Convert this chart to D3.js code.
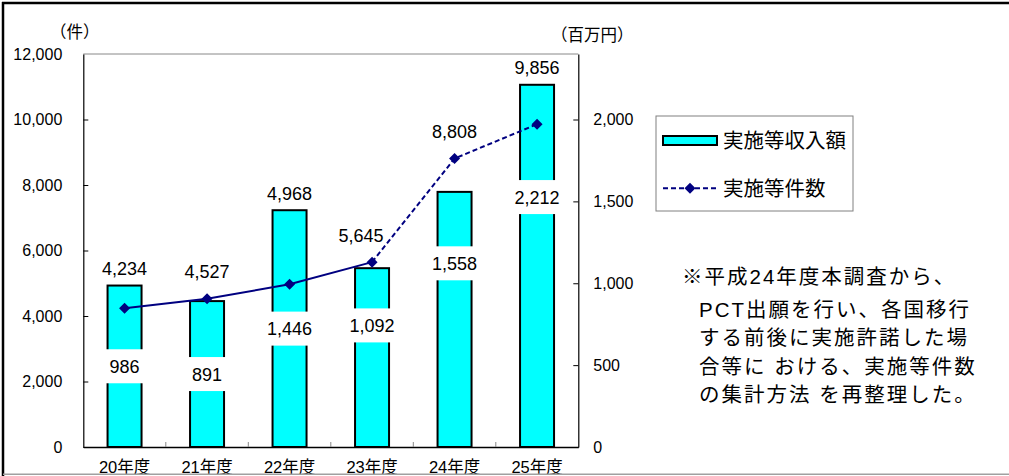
<!DOCTYPE html>
<html><head><meta charset="utf-8">
<script src="https://cdn.jsdelivr.net/npm/d3@7"></script>
<style>
html,body{margin:0;padding:0;background:#fff;}
svg{display:block;font-family:"Liberation Sans","Noto Sans CJK JP",sans-serif;}
</style></head>
<body>
<svg id="c" width="1009" height="476"></svg>
<script>
// ---- data ----
const categories = ["20年度","21年度","22年度","23年度","24年度","25年度"];
const income = [986, 891, 1446, 1092, 1558, 2212];      // 実施等収入額 (百万円)
const counts = [4234, 4527, 4968, 5645, 8808, 9856];    // 実施等件数 (件)
const leftTicks = [0, 2000, 4000, 6000, 8000, 10000, 12000];
const rightTicks = [0, 500, 1000, 1500, 2000];
const seriesNames = ["実施等収入額", "実施等件数"];
const axisTitles = ["（件）", "（百万円）"];
const noteLines = ["※平成24年度本調査から、","PCT出願を行い、各国移行","する前後に実施許諾した場","合等に おける、実施等件数","の集計方法 を再整理した。"];
// layout: where along each bar its label sits (fraction of bar height)
const barLabelFrac = [0.5, 0.5, 0.5, 0.68, 0.72, 0.69];
// layout: horizontal nudge of line labels (px)
const lineLabelDx = [0, 0, 0, -11, 0, 0];

const svg = d3.select("#c");
const L = 83.3, R = 578.3, T = 54, B = 447;
const x = d3.scaleBand().domain(categories).range([L, R]).padding(0);
const yL = d3.scaleLinear().domain([0, 12000]).range([B, T]);
const yR = d3.scaleLinear().domain([0, 2400]).range([B, T]);
const navy = "#000080", cyan = "#00FFFF";
const fmt = d3.format(",");

// outer frame
svg.append("line").attr("x1",2).attr("x2",1009).attr("y1",3).attr("y2",3).attr("stroke","#000").attr("stroke-width",2.5);
svg.append("line").attr("x1",3).attr("x2",3).attr("y1",2).attr("y2",476).attr("stroke","#000").attr("stroke-width",2.5);

// plot top border
svg.append("line").attr("x1",L).attr("x2",R).attr("y1",T).attr("y2",T).attr("stroke","#888").attr("stroke-width",1);

// bars
const bw = 34;
svg.append("g").selectAll("rect").data(income).join("rect")
  .attr("x",(d,i)=>x(categories[i]) + x.bandwidth()/2 - bw/2)
  .attr("y",d=>yR(d)).attr("width",bw).attr("height",d=>B - yR(d))
  .attr("fill",cyan).attr("stroke","#000").attr("stroke-width",2);

// axes
const gl = svg.append("g").attr("transform",`translate(${L},0)`)
  .call(d3.axisLeft(yL).tickValues(leftTicks).tickFormat(fmt).tickSize(-5).tickSizeOuter(0).tickPadding(21));
const gr = svg.append("g").attr("transform",`translate(${R},0)`)
  .call(d3.axisRight(yR).tickValues(rightTicks).tickFormat(fmt).tickSize(-5).tickSizeOuter(0).tickPadding(15));
[gl, gr].forEach(g=>{
  g.selectAll("text").attr("font-size",16).attr("fill","#000");
  g.selectAll(".tick line").attr("stroke","#000");
  g.select(".domain").attr("stroke","#000").attr("stroke-width",1.2);
  g.attr("font-family",null);
});
gl.selectAll(".tick").filter(d=>d===12000).select("line").remove();
const gb = svg.append("g").attr("transform",`translate(0,${B})`)
  .call(d3.axisBottom(x).tickSize(0).tickSizeOuter(0));
gb.attr("font-family",null);
gb.select(".domain").attr("stroke","#000").attr("stroke-width",1.5);
gb.selectAll("text").attr("font-size",16.5).attr("fill","#000").attr("y",20).attr("dy","0.35em");
// category separator ticks (inward)
svg.append("g").selectAll("line").data(categories.slice(1)).join("line")
  .attr("x1",d=>x(d)).attr("x2",d=>x(d)).attr("y1",B).attr("y2",B-5)
  .attr("stroke","#888").attr("stroke-width",1);

// bar labels with white boxes
const bl = svg.append("g");
income.forEach((v,i)=>{
  const cx = x(categories[i]) + x.bandwidth()/2;
  const cy = yR(v * barLabelFrac[i]);
  const t = bl.append("text").attr("x",cx).attr("y",cy).attr("dy","0.36em")
    .attr("text-anchor","middle").attr("font-size",18).attr("fill","#000").text(fmt(v));
  const w = Math.max(t.node().getComputedTextLength() + 10, bw + 6);
  bl.insert("rect","text:last-child").attr("x",cx - w/2).attr("y",cy - 17).attr("width",w).attr("height",34).attr("fill","#fff");
});

// line
const pts = counts.map((v,i)=>[x(categories[i]) + x.bandwidth()/2, yL(v)]);
const line = d3.line();
svg.append("path").attr("d",line(pts.slice(0,4))).attr("fill","none").attr("stroke",navy).attr("stroke-width",2);
svg.append("path").attr("d",line(pts.slice(3))).attr("fill","none").attr("stroke",navy).attr("stroke-width",2).attr("stroke-dasharray","5,3");
const diamond = (cx,cy,r)=>`M${cx},${cy-r}L${cx+r},${cy}L${cx},${cy+r}L${cx-r},${cy}Z`;
svg.append("g").selectAll("path").data(pts).join("path")
  .attr("d",d=>diamond(d[0],d[1],5.5)).attr("fill",navy);

// line labels (above the highest mark)
svg.append("g").selectAll("text").data(counts).join("text")
  .attr("x",(d,i)=>pts[i][0] + lineLabelDx[i])
  .attr("y",(d,i)=>Math.min(yR(income[i]) - 17, yL(d) - 27))
  .attr("dy","0.36em").attr("text-anchor","middle").attr("font-size",18).attr("fill","#000")
  .text(d=>fmt(d));

// axis titles
svg.append("text").attr("x",50).attr("y",32).attr("dy","0.36em").attr("font-size",16.5).text(axisTitles[0]);
svg.append("text").attr("x",551).attr("y",35).attr("dy","0.36em").attr("font-size",16.5).text(axisTitles[1]);

// legend
const lg = svg.append("g");
lg.append("rect").attr("x",656).attr("y",116).attr("width",197).attr("height",95).attr("fill","#fff").attr("stroke","#808080").attr("stroke-width",1);
lg.append("rect").attr("x",663).attr("y",136).attr("width",54).attr("height",9).attr("fill",cyan).attr("stroke","#000").attr("stroke-width",2);
lg.append("text").attr("x",723).attr("y",141).attr("dy","0.36em").attr("font-size",20.5).text(seriesNames[0]);
lg.append("line").attr("x1",663).attr("x2",717).attr("y1",188.3).attr("y2",188.3).attr("stroke",navy).attr("stroke-width",2).attr("stroke-dasharray","5,3");
lg.append("path").attr("d",diamond(690,188.3,5.5)).attr("fill",navy);
lg.append("text").attr("x",723).attr("y",188.3).attr("dy","0.36em").attr("font-size",20.5).text(seriesNames[1]);

// note
const noteY = [277, 309.5, 338, 366.5, 395];
const noteX = [682, 699, 699, 699, 699];
svg.append("g").selectAll("text").data(noteLines).join("text")
  .attr("x",(d,i)=>noteX[i]).attr("y",(d,i)=>noteY[i]).attr("dy","0.36em")
  .attr("font-size",20.5).attr("letter-spacing","2px").attr("fill","#000").text(d=>d);

// bottom frame line
svg.append("line").attr("x1",3).attr("x2",1009).attr("y1",474.3).attr("y2",474.3).attr("stroke","#a0a0a0").attr("stroke-width",1.5);
</script>
</body></html>
